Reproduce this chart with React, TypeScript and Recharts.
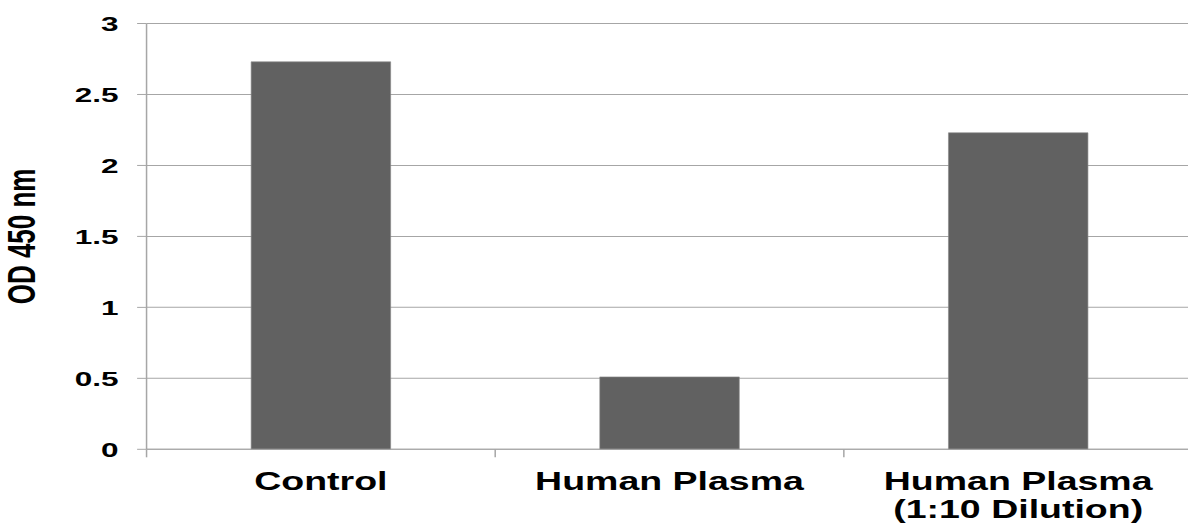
import React from "react";
import { BarChart, Bar, XAxis, YAxis, CartesianGrid } from "recharts";

const categories = ["Control", "Human Plasma", "Human Plasma\n(1:10 Dilution)"];
const odValues = [2.73, 0.51, 2.23];
const yTicks = [0, 0.5, 1, 1.5, 2, 2.5, 3];
const yTickLabels = ["0", "0.5", "1", "1.5", "2", "2.5", "3"];
const yAxisTitle = "OD 450 nm";

const data = categories.map((c, i) => ({ name: c, od: odValues[i] }));

const FONT = "'Liberation Sans', Arial, sans-serif";
const GRID = "#a6a6a6";

const XTick = (props: any) => {
  const { x, y, payload } = props;
  const off = payload && payload.offset != null ? payload.offset : 0;
  const lines = String(payload.value).split("\n");
  return (
    <g>
      <line x1={x - off} x2={x - off} y1={y - 8} y2={y} stroke={GRID} strokeWidth={1} />
      <text
        x={x}
        y={y + 33}
        textAnchor="middle"
        fontFamily={FONT}
        fontWeight="bold"
        fontSize={25}
        fill="#000"
      >
        {lines.map((l, i) => (
          <tspan key={i} x={x} dy={i === 0 ? 0 : 28}>
            {l}
          </tspan>
        ))}
      </text>
    </g>
  );
};

const YLabel = (props: any) => {
  const vb = props.viewBox || { x: 0, y: 0, width: 0, height: 0 };
  const cx = vb.x + 14.5;
  const cy = vb.y + vb.height / 2;
  return (
    <text
      x={cx}
      y={cy}
      transform={`rotate(-90, ${cx}, ${cy})`}
      textAnchor="middle"
      dominantBaseline="central"
      fontFamily={FONT}
      fontWeight="bold"
      fontSize={26}
      fill="#000"
    >
      {yAxisTitle}
    </text>
  );
};

export default function App() {
  return (
    <div
      style={{
        position: "absolute",
        left: 0,
        top: 0,
        width: 1188,
        height: 525,
        overflow: "hidden",
        background: "#fff",
      }}
    >
      <div style={{ transform: "scaleX(1.5)", transformOrigin: "0 0", width: 800, height: 525 }}>
        <BarChart
          width={800}
          height={525}
          data={data}
          margin={{ top: 23.5, right: 5, bottom: 0, left: 0 }}
          barCategoryGap="30%"
        >
          <CartesianGrid vertical={false} stroke={GRID} strokeWidth={1} />
          <XAxis
            dataKey="name"
            interval={0}
            height={75.7}
            axisLine={{ stroke: GRID, strokeWidth: 1 }}
            tickLine={false}
            tickSize={8}
            tickMargin={0}
            tick={<XTick />}
          />
          <YAxis
            width={97.7}
            domain={[0, 3]}
            ticks={yTicks}
            interval={0}
            tickFormatter={(v: number) => yTickLabels[yTicks.indexOf(v)] ?? String(v)}
            axisLine={{ stroke: GRID, strokeWidth: 1 }}
            tickLine={{ stroke: GRID, strokeWidth: 1 }}
            tickSize={6.3}
            tickMargin={12.4}
            tick={{ fontFamily: FONT, fontWeight: "bold", fontSize: 21, fill: "#000" }}
            label={{ content: (p: any) => <YLabel {...p} /> }}
          />
          <Bar dataKey="od" fill="#616161" stroke="#8a8a8a" strokeWidth={0.5} isAnimationActive={false} />
        </BarChart>
      </div>
    </div>
  );
}
